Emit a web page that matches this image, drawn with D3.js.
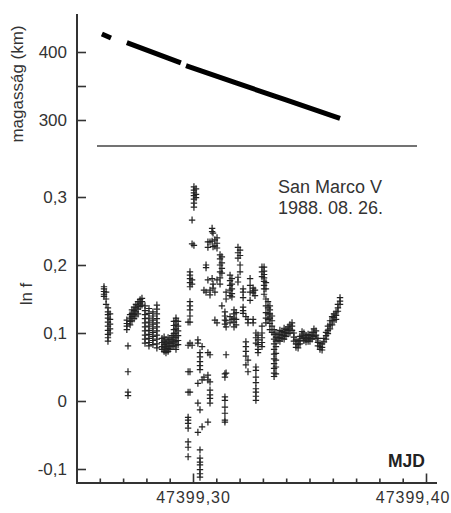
<!DOCTYPE html>
<html>
<head>
<meta charset="utf-8">
<script src="https://cdn.jsdelivr.net/npm/d3@7"></script>
<style>
  body { margin: 0; background: #fff; }
  svg { display: block; font-family: "Liberation Sans", Arial, sans-serif; }
</style>
</head>
<body>
<svg width="451" height="513"></svg>
<script>
// MJD = 47399 + day fraction
const mjdBase = 47399;

// satellite altitude (km), null = gap in the record
const altTime = [0.2609, 0.2648, null, 0.2716, 0.2948, null, 0.2970, 0.3185, 0.3399, 0.3631];
const altKm   = [426.5, 420.6, null, 413.7, 384.0, null, 380.0, 354.5, 329.5, 302.5];

// ln f samples, grouped by time column: [day fraction, [ln f values]]
const lnfEarly = [
  [0.2618, [0.168, 0.165, 0.161, 0.157, 0.154]],
  [0.2627, [0.160, 0.150, 0.142]],
  [0.2635, [0.137, 0.131, 0.127, 0.122, 0.116, 0.110, 0.104, 0.098, 0.093, 0.088]],
  [0.2644, [0.128, 0.120, 0.113, 0.106, 0.100]],
  [0.2716, [0.119, 0.114, 0.110, 0.105]],
  [0.2721, [0.081, 0.043, 0.013, 0.008]],
  [0.2730, [0.127, 0.122, 0.117, 0.112]],
  [0.2738, [0.134, 0.129, 0.124, 0.118]],
  [0.2747, [0.138, 0.133, 0.127, 0.121]],
  [0.2755, [0.142, 0.137, 0.131, 0.125]],
  [0.2764, [0.146, 0.140, 0.135, 0.128]],
  [0.2773, [0.149, 0.144, 0.139]],
  [0.2781, [0.151, 0.146, 0.141]],
  [0.2794, [0.140, 0.133, 0.127, 0.121, 0.115, 0.109, 0.103, 0.097, 0.091, 0.085]],
  [0.2811, [0.136, 0.129, 0.122, 0.116, 0.110, 0.104, 0.098, 0.092, 0.086, 0.081]],
  [0.2828, [0.131, 0.125, 0.119, 0.113, 0.107, 0.101, 0.095, 0.089, 0.083]],
  [0.2845, [0.141, 0.135, 0.128, 0.121, 0.115, 0.109, 0.103, 0.097, 0.091, 0.084, 0.078]],
  [0.2867, [0.092, 0.086, 0.080, 0.076]],
  [0.2876, [0.094, 0.088, 0.083, 0.078, 0.073]],
  [0.2884, [0.090, 0.085, 0.080, 0.075, 0.071]],
  [0.2893, [0.093, 0.087, 0.082, 0.077, 0.073]],
  [0.2901, [0.091, 0.085, 0.080, 0.076]],
  [0.2910, [0.096, 0.090, 0.085, 0.080]],
  [0.2918, [0.117, 0.111, 0.105, 0.099, 0.093, 0.087, 0.081]],
  [0.2927, [0.122, 0.118, 0.112, 0.106, 0.100, 0.094, 0.088, 0.082, 0.076]],
  [0.2936, [0.117, 0.110, 0.103, 0.096, 0.089, 0.083]]
];

const lnfBurst = [
  [0.2979, [0.116, 0.082, 0.043, 0.013, -0.024, -0.028, -0.033, -0.040, -0.060, -0.068, -0.082]],
  [0.2987, [0.190, 0.185, 0.180, 0.174, 0.168, 0.146, 0.140, 0.134, 0.125, 0.116, 0.085, 0.043, 0.013]],
  [0.2996, [0.266, 0.231, 0.178, 0.172, 0.082]],
  [0.3004, [0.315, 0.310, 0.306, 0.302, 0.297, 0.291, 0.285, 0.229]],
  [0.3013, [0.312, 0.304, 0.299]],
  [0.3021, [0.090, 0.085, 0.026, -0.003, -0.046]],
  [0.3030, [0.071, 0.065, 0.058, 0.052, 0.046, -0.013, -0.072, -0.084, -0.090, -0.094, -0.101, -0.107, -0.112]],
  [0.3039, [0.080, 0.031, -0.038]],
  [0.3047, [0.035, 0.163]],
  [0.3056, [0.200, 0.196, 0.160]],
  [0.3064, [0.234, 0.226, 0.178, 0.038, 0.031, 0.071, -0.031]],
  [0.3073, [0.234, 0.163, 0.156, 0.028, 0.016, 0.009, 0.004, -0.003, 0.068]],
  [0.3082, [0.254, 0.249, 0.235, 0.180]],
  [0.3086, [0.247, 0.227, 0.172, 0.166]],
  [0.3094, [0.237, 0.228, 0.160, 0.119]],
  [0.3103, [0.240, 0.232, 0.225, 0.178, 0.115]],
  [0.3116, [0.215, 0.209, 0.200, 0.190, 0.181, 0.172]],
  [0.3124, [0.212, 0.203, 0.195, 0.188, 0.140]],
  [0.3137, [0.131, 0.125, 0.119, 0.113, 0.040, 0.035, 0.006, 0.001, -0.009, -0.018, -0.028, -0.031]],
  [0.3142, [0.160, 0.150, 0.118, 0.109, 0.068, 0.041]],
  [0.3159, [0.185, 0.177, 0.170, 0.163, 0.155, 0.124, 0.115]],
  [0.3167, [0.180, 0.172, 0.165, 0.158, 0.153, 0.120]],
  [0.3176, [0.134, 0.128, 0.122, 0.116, 0.109]],
  [0.3185, [0.130, 0.120, 0.112]],
  [0.3193, [0.226, 0.218, 0.210, 0.182, 0.175]],
  [0.3202, [0.222, 0.214, 0.200, 0.190]],
  [0.3215, [0.138, 0.133, 0.129, 0.165, 0.160, 0.152]],
  [0.3227, [0.124, 0.087, 0.080, 0.073, 0.066, 0.053]],
  [0.3236, [0.120, 0.115, 0.043, 0.060]],
  [0.3245, [0.180, 0.170, 0.160, 0.148]],
  [0.3258, [0.166, 0.162, 0.159, 0.120, 0.115]],
  [0.3266, [0.163, 0.155]],
  [0.3270, [0.100, 0.093, 0.085, 0.050, 0.045, 0.035, 0.027, 0.018, 0.013, 0.007, 0.001]],
  [0.3279, [0.097, 0.090, 0.083, 0.076, 0.071]],
  [0.3296, [0.197, 0.190, 0.183, 0.110, 0.100, 0.093, 0.086, 0.080]],
  [0.3305, [0.197, 0.191, 0.186, 0.181, 0.176, 0.170, 0.165, 0.157]],
  [0.3313, [0.174, 0.165, 0.150, 0.140, 0.130, 0.122, 0.115]],
  [0.3322, [0.146, 0.137, 0.128, 0.120]],
  [0.3330, [0.140, 0.134, 0.128, 0.122, 0.114, 0.105]],
  [0.3339, [0.125, 0.118, 0.110, 0.101]],
  [0.3348, [0.105, 0.098, 0.091, 0.084, 0.076, 0.069, 0.062, 0.055, 0.048, 0.041, 0.036]],
  [0.3356, [0.100, 0.094, 0.088, 0.080, 0.070, 0.060, 0.050, 0.040]]
];

const lnfLate = [
  [0.3365, [0.098, 0.093, 0.089]],
  [0.3373, [0.104, 0.098, 0.093, 0.088]],
  [0.3382, [0.102, 0.097, 0.092]],
  [0.3391, [0.107, 0.101, 0.096, 0.091]],
  [0.3399, [0.105, 0.100, 0.095]],
  [0.3408, [0.109, 0.104, 0.099]],
  [0.3416, [0.112, 0.106, 0.100]],
  [0.3425, [0.115, 0.110, 0.104]],
  [0.3433, [0.100, 0.094, 0.088]],
  [0.3442, [0.090, 0.084, 0.079]],
  [0.3451, [0.088, 0.083, 0.078]],
  [0.3459, [0.095, 0.089, 0.084]],
  [0.3468, [0.102, 0.097, 0.092]],
  [0.3476, [0.100, 0.094, 0.089]],
  [0.3485, [0.096, 0.091, 0.087]],
  [0.3494, [0.098, 0.093, 0.088]],
  [0.3502, [0.097, 0.092, 0.088]],
  [0.3511, [0.101, 0.096, 0.091]],
  [0.3519, [0.106, 0.101, 0.095]],
  [0.3528, [0.103, 0.097, 0.092]],
  [0.3536, [0.092, 0.086, 0.081]],
  [0.3545, [0.085, 0.080, 0.076]],
  [0.3554, [0.084, 0.079, 0.075]],
  [0.3562, [0.092, 0.087]],
  [0.3571, [0.101, 0.096, 0.091]],
  [0.3579, [0.110, 0.104, 0.099]],
  [0.3588, [0.118, 0.112, 0.106]],
  [0.3597, [0.124, 0.118, 0.112]],
  [0.3605, [0.128, 0.123, 0.118]],
  [0.3614, [0.131, 0.126, 0.120]],
  [0.3622, [0.142, 0.137, 0.132]],
  [0.3631, [0.152, 0.147, 0.142]]
];

const altTicks = [300, 350, 400];
const lnfTicks = [-0.1, 0, 0.1, 0.2, 0.3];
const lnfLabels = ["-0,1", "0", "0,1", "0,2", "0,3"];
const majorTicks = [0.30, 0.40];
const majorLabels = ["47399,30", "47399,40"];
const minorTicks = [0.26, 0.27, 0.28, 0.29, 0.31, 0.32, 0.33, 0.34, 0.35, 0.36, 0.37, 0.38, 0.39];

const svg = d3.select("svg");
const ink = "#333";

const x = d3.scaleLinear().domain([0.25, 0.40]).range([76.5, 426]);
const yAlt = d3.scaleLinear().domain([300, 400]).range([120, 52]);
const yLnf = d3.scaleLinear().domain([-0.1, 0.3]).range([469, 197]);

// axis frame
svg.append("line").attr("x1", 77).attr("x2", 77).attr("y1", 14).attr("y2", 484)
  .attr("stroke", ink).attr("stroke-width", 2);
svg.append("line").attr("x1", 76).attr("x2", 437).attr("y1", 483).attr("y2", 483)
  .attr("stroke", ink).attr("stroke-width", 2);
// panel separator
svg.append("line").attr("x1", 97).attr("x2", 417).attr("y1", 146).attr("y2", 146)
  .attr("stroke", "#444").attr("stroke-width", 1.3);

function styleAxis(g) {
  g.select(".domain").remove();
  g.selectAll(".tick line").attr("stroke", ink).attr("stroke-width", 1.6);
  g.selectAll(".tick text").attr("fill", ink).style("font-size", "17px");
}

svg.append("g").attr("transform", "translate(77,0)")
  .call(d3.axisLeft(yAlt).tickValues(altTicks).tickSize(-9).tickPadding(10)
    .tickFormat(d => d === 350 ? "" : d))
  .call(styleAxis);

svg.append("g").attr("transform", "translate(77,0)")
  .call(d3.axisLeft(yLnf).tickValues(lnfTicks).tickSize(-9).tickPadding(10)
    .tickFormat((d, i) => lnfLabels[i]))
  .call(styleAxis);

svg.append("g").attr("transform", "translate(0,483)")
  .call(d3.axisBottom(x).tickValues(minorTicks).tickSize(-4.5).tickFormat(""))
  .call(styleAxis);
const xMajor = svg.append("g").attr("transform", "translate(0,483)")
  .call(d3.axisBottom(x).tickValues(majorTicks).tickSize(-9.5).tickPadding(9)
    .tickFormat((d, i) => majorLabels[i]))
  .call(styleAxis);
xMajor.selectAll(".tick text").style("font-size", "16px").style("letter-spacing", "1px");
// last label sits against the right edge, as in the original
xMajor.selectAll(".tick text").filter((d, i) => i === 1)
  .attr("text-anchor", "end").attr("x", 450 - x(0.40));

// altitude track
const altLine = d3.line()
  .defined((d, i) => altTime[i] !== null)
  .x((d, i) => x(altTime[i]))
  .y((d, i) => yAlt(altKm[i]))
  .curve(d3.curveMonotoneX);
svg.append("path").datum(altKm).attr("d", altLine)
  .attr("fill", "none").attr("stroke", "#000").attr("stroke-width", 5);

// ln f scatter
const points = [...lnfEarly, ...lnfBurst, ...lnfLate]
  .flatMap(([t, vals]) => vals.map(v => ({ t, v })));
svg.append("g").selectAll("path").data(points).join("path")
  .attr("transform", d => `translate(${x(d.t)},${yLnf(d.v)})`)
  .attr("d", "M-3.2,0H3.2M0,-3.5V3.5")
  .attr("stroke", "#222").attr("stroke-width", 1.2).attr("fill", "none");

// titles
svg.append("text").attr("transform", "translate(23,84) rotate(-90)")
  .attr("text-anchor", "middle").attr("fill", ink).style("font-size", "17px")
  .text("magasság (km)");
svg.append("text").attr("transform", "translate(32,294) rotate(-90)")
  .attr("text-anchor", "middle").attr("fill", ink).style("font-size", "17px")
  .text("ln f");

const note = svg.append("text").attr("fill", ink).style("font-size", "18px");
note.append("tspan").attr("x", 278).attr("y", 193).text("San Marco V");
note.append("tspan").attr("x", 278).attr("y", 214).text("1988. 08. 26.");

svg.append("text").attr("x", 425).attr("y", 467).attr("text-anchor", "end")
  .attr("fill", "#222").style("font-size", "17.5px").style("font-weight", "bold")
  .text("MJD");
</script>
</body>
</html>
